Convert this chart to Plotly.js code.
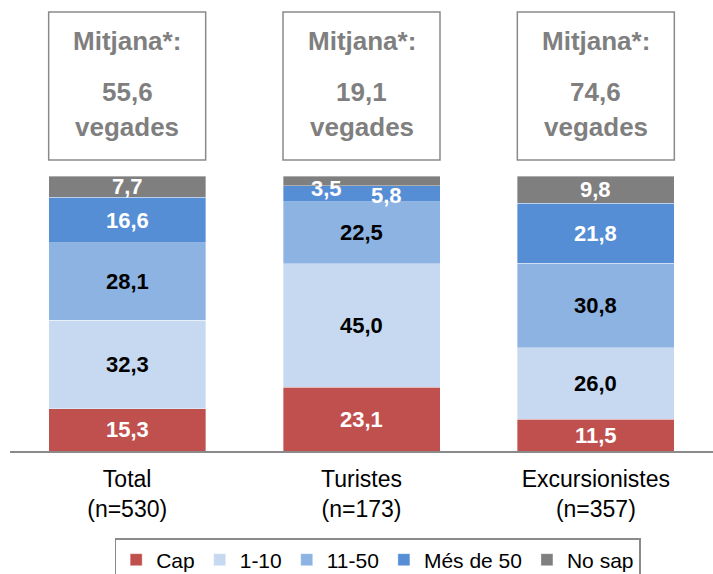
<!DOCTYPE html>
<html>
<head>
<meta charset="utf-8">
<script src="https://cdn.plot.ly/plotly-3.0.1.min.js"></script>
<style>html,body{margin:0;padding:0;background:#fff;}#chart{width:713px;height:574px;}</style>
</head>
<body>
<div id="chart"></div>
<script>
// ---- data ----
const categories = ["Total<br>(n=530)", "Turistes<br>(n=173)", "Excursionistes<br>(n=357)"];
const seriesNames = ["Cap", "1-10", "11-50", "Més de 50", "No sap"];
const cap = [15.3, 23.1, 11.5];
const u1_10 = [32.3, 45.0, 26.0];
const u11_50 = [28.1, 22.5, 30.8];
const mesDe50 = [16.6, 5.8, 21.8];
const noSap = [7.7, 3.5, 9.8];
const means = [55.6, 19.1, 74.6];
const meanLabel = "Mitjana*:";
const meanUnit = "vegades";

// ---- styling ----
const seriesValues = [cap, u1_10, u11_50, mesDe50, noSap];
const colors = ["#c0504d", "#c6d9f1", "#8db3e2", "#558ed5", "#7f7f7f"];
const textColors = ["#ffffff", "#000000", "#000000", "#ffffff", "#ffffff"];
const FONT = "Liberation Sans, Arial, sans-serif";
const W = 713, H = 574, M = {l: 10, r: 0, t: 176, b: 123};
const bargap = 0.33;
const plotH = H - M.t - M.b;
const py = Y => (H - M.b - Y) / plotH; // pixel row -> paper y
const fmt = v => v.toFixed(1).replace('.', ',');

const xIdx = categories.map((c, i) => i);

const traces = seriesValues.map((vals, s) => ({
  type: 'bar',
  name: seriesNames[s],
  x: xIdx,
  y: vals,
  marker: {color: colors[s], line: {color: 'rgba(255,255,255,0.6)', width: 0.6}},
  hoverinfo: 'none'
}));

// value labels
const shifts = {"1_4": [-35, -7], "1_3": [25, -2]};
const annotations = [];
const boxFont = {family: FONT, size: 26, color: '#7f7f7f'};
xIdx.forEach(i => {
  let cum = 0;
  seriesValues.forEach((vals, s) => {
    const v = vals[i];
    const mid = cum + v / 2;
    cum += v;
    const sh = shifts[i + "_" + s] || [0, 0];
    annotations.push({
      x: i, y: mid, xref: 'x', yref: 'y', showarrow: false,
      text: '<b>' + fmt(v) + '</b>',
      font: {family: FONT, size: 22, color: textColors[s]},
      xshift: sh[0], yshift: sh[1]
    });
  });
  // mean box texts
  [[meanLabel, 41], [fmt(means[i]), 92], [meanUnit, 127]].forEach(([t, Y]) => {
    annotations.push({
      x: i, y: py(Y), xref: 'x', yref: 'paper', yanchor: 'middle', showarrow: false,
      text: '<b>' + t + '</b>', font: boxFont
    });
  });
});

const bw = 1 - bargap;
const shapes = xIdx.map(i => ({
  type: 'rect', xref: 'x', yref: 'paper',
  x0: i - bw / 2, x1: i + bw / 2, y0: py(160), y1: py(12),
  line: {color: '#8a8a8a', width: 1.5}, fillcolor: 'rgba(0,0,0,0)'
}));

const layout = {
  width: W, height: H,
  margin: M,
  paper_bgcolor: '#fff', plot_bgcolor: '#fff',
  barmode: 'stack', bargap: bargap,
  font: {family: FONT, color: '#000'},
  showlegend: true,
  legend: {
    orientation: 'h', traceorder: 'normal',
    x: 0.523, xanchor: 'center', xref: 'paper',
    yref: 'container', y: 1 - 538 / H, yanchor: 'top',
    font: {family: FONT, size: 21, color: '#000'},
    bordercolor: '#8a8a8a', borderwidth: 1.5, bgcolor: '#fff'
  },
  xaxis: {
    type: 'linear', range: [-0.5, 2.5], tickvals: xIdx, ticktext: categories,
    showgrid: false, zeroline: false, showline: true, linecolor: '#8a8a8a', linewidth: 2,
    ticks: '', tickfont: {family: FONT, size: 23, color: '#000'}, ticklabelstandoff: 6,
    fixedrange: true
  },
  yaxis: {
    range: [0, 100], showgrid: false, zeroline: false, showline: false,
    showticklabels: false, ticks: '', fixedrange: true
  },
  annotations: annotations,
  shapes: shapes
};

Plotly.newPlot('chart', traces, layout, {displayModeBar: false, staticPlot: true});
</script>
</body>
</html>
